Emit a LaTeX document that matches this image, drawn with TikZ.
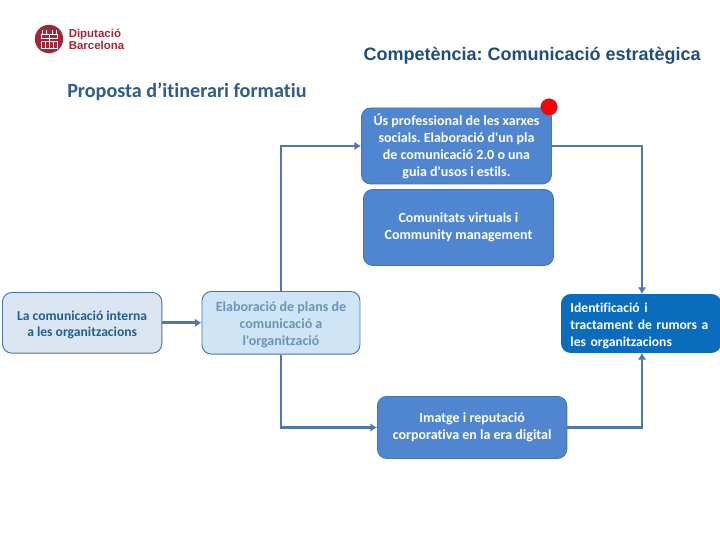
\documentclass[tikz,border=0pt]{standalone}
\usepackage{fontspec}
\setmainfont[Ligatures={TeXOff,NoCommon}]{Carlito}
\newfontfamily\arialfont{Liberation Sans}
\usetikzlibrary{arrows.meta}
\definecolor{midblue}{HTML}{5086CF}
\definecolor{midedge}{HTML}{4A74A8}
\definecolor{deepblue}{HTML}{0A6CBD}
\definecolor{leftfill}{HTML}{DCE6F2}
\definecolor{elabfill}{HTML}{CFE4F4}
\definecolor{conn}{HTML}{4F79AD}
\definecolor{elabtext}{HTML}{6A94BC}
\definecolor{lefttext}{HTML}{1F5F93}
\definecolor{titleblue}{HTML}{1F4E79}
\definecolor{propblue}{HTML}{2F5C8A}
\definecolor{logored}{HTML}{A32638}
\tikzset{
  x=0.75pt,y=-0.75pt,
  boxbase/.style={rounded corners=7pt,draw=midedge,line width=0.7pt,align=center,font=\fontsize{10.5}{12.75}\selectfont\bfseries,inner sep=0pt,anchor=north west},
  midbox/.style={boxbase,fill=midblue,text=white},
  flow/.style={draw=conn,line width=2.2pt,-{Latex[length=5pt,width=6.5pt]}},
}
\newcommand{\nudge}{\rule{0pt}{10.5pt}}
\begin{document}
\frenchspacing
\begin{tikzpicture}
\useasboundingbox (0,0) rectangle (720,540);
\fill[white] (0,0) rectangle (720,540);
% logo
\fill[logored] (49,39) circle[radius=14.2];
\begin{scope}[white,line width=0.6pt]
 \draw (41,34) rectangle (57,38);
 \draw (41,41) rectangle (57,48);
 \draw (45,41) -- (45,48) (49,34) -- (49,48) (53,41) -- (53,48);
 \draw (42,30) -- (42,34) (46,30) -- (46,34) (52,30) -- (52,34) (56,30) -- (56,34);
\end{scope}
\node[anchor=west,inner sep=0pt,text=logored,font=\arialfont\fontsize{8.6}{8.8}\selectfont\bfseries,align=left] (logotext) at (68.5,39.5) {Diputació\\Barcelona};
% titles
\node[anchor=east,inner sep=0pt,text=titleblue,font=\arialfont\fontsize{13.5}{16}\selectfont\bfseries\frenchspacing] (comp) at (701,56) {Competència: Comunicació estratègica};
\node[anchor=west,inner sep=0pt,text=propblue,font=\fontsize{15.1}{18}\selectfont\bfseries] (prop) at (67,92) {Proposta d’itinerari formatiu};
% boxes
\node[midbox,minimum width=142.5pt,minimum height=57pt] (us) at (361,107.5) {Ús professional de les xarxes\\socials. Elaboració d'un pla\\de comunicació 2.0 o una\\guia d'usos i estils.};
\node[midbox,minimum width=142.5pt,minimum height=57pt] (com) at (363,189) {Comunitats virtuals i\\Community management};
\node[boxbase,fill=leftfill,text=lefttext,minimum width=119.5pt,minimum height=45.5pt,font=\fontsize{10.2}{12.5}\selectfont\bfseries] (intern) at (2,292) {\nudge La comunicació interna\\a les organitzacions};
\node[boxbase,fill=elabfill,text=elabtext,minimum width=118.5pt,minimum height=47pt] (elab) at (201.5,291) {\nudge Elaboració de plans de\\comunicació a\\l'organització};
\node[boxbase,fill=deepblue,draw=deepblue,text=white,align=left,minimum width=119.5pt,minimum height=43.5pt,text width=106pt,font=\fontsize{10.2}{12.75}\selectfont\bfseries] (ident) at (561,294) {\nudge Identificació i\\tractament de rumors a\\les organitzacions};
\node[midbox,minimum width=142pt,minimum height=46.5pt] (imat) at (377,396) {Imatge i reputació\\corporativa en la era digital};
% connectors
\coordinate (topright) at (642,100);
\coordinate (botright) at (642,500);
\draw[flow] (intern.east |- elab.west) -- (elab.west);
\draw[flow] (elab.north) -- (elab.north |- us.west) -- (us.west);
\draw[flow] (us.east) -- (topright |- us.east) -- (topright |- ident.north);
\draw[flow] (elab.south) -- (elab.south |- imat.west) -- (imat.west);
\draw[flow] (imat.east) -- (botright |- imat.east) -- (botright |- ident.south);
% red dot
\node[circle,fill=red,draw=midedge,line width=0.3pt,minimum size=12.6pt,inner sep=0pt] (dot) at (549,107) {};
\end{tikzpicture}
\end{document}
